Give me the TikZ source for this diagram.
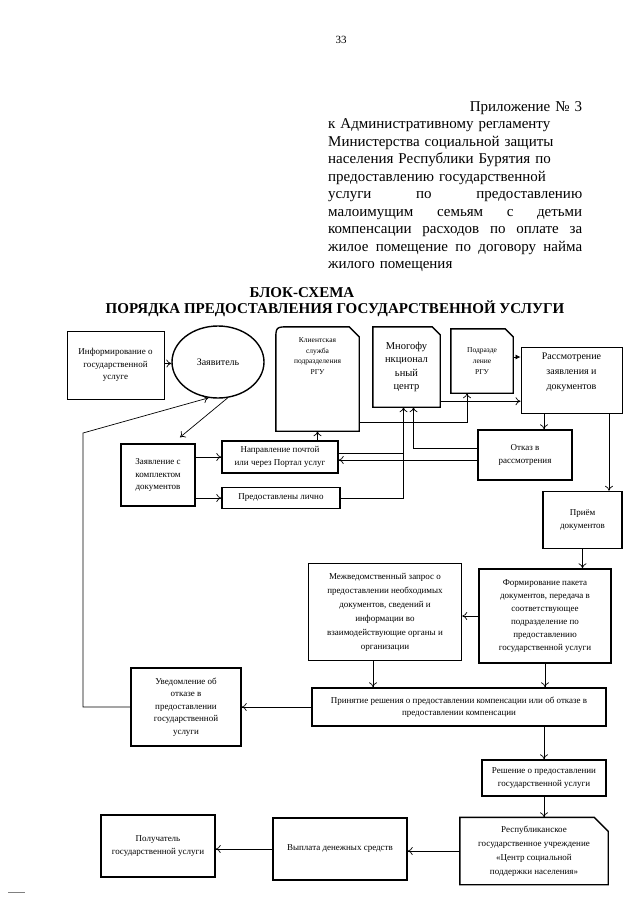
\documentclass[tikz,border=0pt]{standalone}
\usepackage{fontspec}
\setmainfont{Liberation Serif}
\usetikzlibrary{shapes.geometric,arrows.meta}
\newcommand{\cutbox}[2]{\draw[line width=1.4pt] (#1.south west) -- (#1.north west) -- ([xshift=-#2]#1.north east) -- ([yshift=-#2]#1.north east) -- (#1.south east) -- cycle;}
\newcommand{\spreadline}[1]{\makebox[254pt][l]{#1}}
\begin{document}
\begin{tikzpicture}[x=1pt,y=-1pt,
  box/.style={draw,line width=1.4pt,align=center,inner sep=1pt,font=\fontsize{9}{12.5}\selectfont},
  txt/.style={align=center,inner sep=1pt,font=\fontsize{9}{12.5}\selectfont},
  conn/.style={line width=0.7pt,-{To[length=5pt,width=8pt]}},
  wire/.style={line width=0.7pt}]
\useasboundingbox (0,0) rectangle (640,905);
\node[font=\fontsize{11}{13}\selectfont] (page) at (341,40) {33};
\node[anchor=north west,inner sep=0pt,text width=254pt,align=left,font=\fontsize{15}{17.5}\selectfont] (appx) at (328,101)
{\hfill Приложение № 3\\
к Административному регламенту\\
Министерства социальной защиты\\
населения Республики Бурятия по\\
предоставлению государственной\\
\spreadline{услуги\hfill по\hfill предоставлению}\\
\spreadline{малоимущим\hfill семьям\hfill с\hfill детьми}\\
\spreadline{компенсации\hfill расходов\hfill по\hfill оплате\hfill за}\\
\spreadline{жилое\hfill помещение\hfill по\hfill договору\hfill найма}\\
жилого помещения};
\node[font=\bfseries\fontsize{15}{16}\selectfont] (title1) at (302,293) {БЛОК-СХЕМА};
\node[font=\bfseries\fontsize{15}{16}\selectfont] (title2) at (335,309) {ПОРЯДКА ПРЕДОСТАВЛЕНИЯ ГОСУДАРСТВЕННОЙ УСЛУГИ};

\node[box,line width=0.9pt,minimum width=97pt,minimum height=68pt] (info) at (115.5,365) {Информирование о\\государственной\\услуге};
\node[ellipse,draw,line width=1.4pt,minimum width=92pt,minimum height=72pt,font=\fontsize{10}{12.5}\selectfont] (zayav) at (218,362) {Заявитель};
\node[minimum width=83pt,minimum height=104pt,inner sep=0pt] (klient) at (317.5,379) {};
\draw[line width=1.4pt] (klient.south west) -- ([yshift=-14pt]klient.north west) .. controls (klient.north west) .. ([xshift=14pt]klient.north west) -- ([xshift=-10pt]klient.north east) -- ([yshift=-10pt]klient.north east) -- (klient.south east) -- cycle;
\node[txt,anchor=north,font=\fontsize{7.5}{10.5}\selectfont] (klienttxt) at ([yshift=-10pt]klient.north) {Клиентская\\служба\\подразделения\\РГУ};
\node[txt,minimum width=67pt,minimum height=80pt,font=\fontsize{10.5}{13.5}\selectfont] (mfc) at (406.5,367) {Многофу\\нкционал\\ьный\\центр};
\cutbox{mfc}{8pt}
\node[txt,minimum width=62pt,minimum height=64pt,font=\fontsize{7.5}{11}\selectfont] (podr) at (482,361) {Подразде\\ление\\РГУ};
\cutbox{podr}{8pt}
\node[box,line width=0.9pt,minimum width=101pt,minimum height=66pt] (rassm) at (571.5,380) {};
\node[txt,anchor=north,font=\fontsize{10}{15}\selectfont] (rassmtxt) at ([yshift=-5pt]rassm.north) {Рассмотрение\\заявления и\\документов};

\node[box,minimum width=74pt,minimum height=62pt] (zayavl) at (158,475) {Заявление с\\комплектом\\документов};
\node[box,minimum width=116pt,minimum height=32pt] (naprav) at (280,457) {Направление почтой\\или через Портал услуг};
\node[box,minimum width=118pt,minimum height=21pt] (lichno) at (281,498) {Предоставлены лично};
\node[box,minimum width=94pt,minimum height=50pt] (otkaz) at (525,455) {Отказ в\\рассмотрения};
\node[box,minimum width=79pt,minimum height=57pt] (priem) at (582.5,520) {Приём\\документов};

\node[box,minimum width=153pt,minimum height=97pt,font=\fontsize{9}{14}\selectfont] (mezh) at (385,612) {Межведомственный запрос о\\предоставлении необходимых\\документов, сведений и\\информации во\\взаимодействующие органы и\\организации};
\node[box,minimum width=132pt,minimum height=94pt,font=\fontsize{9}{13}\selectfont] (form) at (545,616) {Формирование пакета\\документов, передача в\\соответствующее\\подразделение по\\предоставлению\\государственной услуги};
\node[box,minimum width=110pt,minimum height=78pt] (uved) at (186,707) {Уведомление об\\отказе в\\предоставлении\\государственной\\услуги};
\node[box,minimum width=294pt,minimum height=38pt] (prin) at (459,707) {Принятие решения о предоставлении компенсации или об отказе в\\предоставлении компенсации};
\node[box,minimum width=124pt,minimum height=36pt] (resh) at (544,778) {Решение о предоставлении\\государственной услуги};
\node[box,minimum width=114pt,minimum height=62pt] (poluch) at (158,846) {Получатель\\государственной услуги};
\node[box,minimum width=134pt,minimum height=62pt] (vypl) at (340,849) {Выплата денежных средств};
\node[txt,minimum width=148pt,minimum height=67pt,font=\fontsize{9}{14}\selectfont] (resp) at (534,851) {Республиканское\\государственное учреждение\\«Центр социальной\\поддержки населения»};
\cutbox{resp}{14pt}

\coordinate (bend) at (83,433);
\coordinate (mfcin) at ([xshift=-3pt]mfc.south);
\draw[conn] (info) -- (zayav);
\draw[conn] (zayav.-75) -- ([xshift=22pt,yshift=6pt]zayavl.north);
\draw[conn] (uved.west) -| (bend) -- (zayav.-105);
\draw[conn] (zayavl.east |- naprav.west) -- (naprav.west);
\draw[conn] (zayavl.east |- lichno.west) -- (lichno.west);
\draw[conn] (naprav.north -| klient.south) -- (klient.south);
\draw[conn] (lichno.east) -| (mfcin);
\draw[wire] ([yshift=4pt]naprav.east) -- ([yshift=4pt]naprav.east -| mfcin);
\draw[conn] ([yshift=7pt]otkaz.west) -| ([xshift=7pt]mfc.south);
\draw[conn] ([yshift=-5pt]otkaz.west) -- ([yshift=-5pt]otkaz.west -| naprav.east);
\draw[conn] ([yshift=9pt]klient.south east) -| ([xshift=-15pt]podr.south);
\draw[conn] ([yshift=6pt]mfc.south east) -- ([yshift=6pt]mfc.south east -| rassm.west);
\draw[line width=0.7pt,-{Latex[length=5pt,width=5pt]}] ([yshift=4pt]podr.east) -- ([yshift=4pt]podr.east -| rassm.west);
\draw[conn] ([xshift=19pt]otkaz.north |- rassm.south) -- ([xshift=19pt]otkaz.north);
\draw[conn] ([xshift=26.5pt]priem.north |- rassm.south) -- ([xshift=26.5pt]priem.north);
\draw[conn] (priem.south) -- (priem.south |- form.north);
\draw[conn] (form.west) -- (form.west -| mezh.east);
\draw[conn] ([xshift=-12pt]mezh.south) -- ([xshift=-12pt]mezh.south |- prin.north);
\draw[conn] (form.south) -- (form.south |- prin.north);
\draw[conn] (prin.west) -- (uved.east);
\draw[conn] (resh.north |- prin.south) -- (resh.north);
\draw[conn] (resh.south) -- (resh.south |- resp.north);
\draw[conn] (resp.west) -- (resp.west -| vypl.east);
\draw[conn] (vypl.west) -- (vypl.west -| poluch.east);
\draw[line width=1pt,gray] (8,892) -- (25,892);
\end{tikzpicture}
\end{document}
